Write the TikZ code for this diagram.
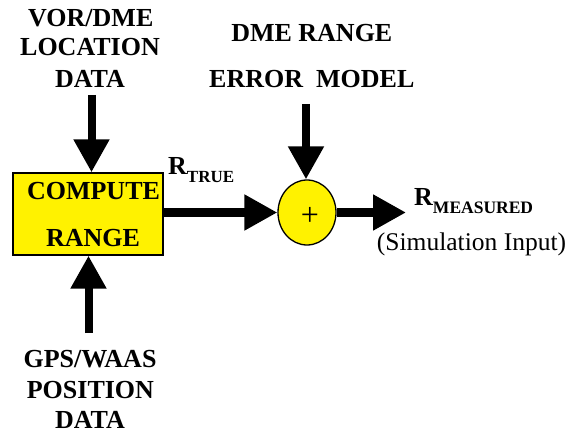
\documentclass[tikz,border=0pt]{standalone}
\usepackage{fontspec}
\setmainfont{Liberation Serif}
\usetikzlibrary{arrows.meta,shapes.geometric}
\begin{document}
\begin{tikzpicture}[x=1pt,y=-1pt,
  lbl/.style={font=\fontsize{26}{30}\selectfont\bfseries, inner sep=0pt, anchor=base},
  plaintext/.style={font=\fontsize{25.5}{30}\selectfont, inner sep=0pt},
  arr/.style={line width=8pt, -{Triangle[length=33pt,width=34pt]}},
  yel/.style={draw=black, line width=1.3pt, fill=yellow}]
\useasboundingbox (0,0) rectangle (576,433);
% box
\node[yel, rectangle, minimum width=150pt, minimum height=82pt, inner sep=0pt] (box) at (88,214) {};
\node[lbl] (c1) at (93.5,200) {COMPUTE};
\node[lbl] (c2) at (93,246) {RANGE};
% summing junction
\node[yel, ellipse, minimum width=58pt, minimum height=65pt, inner sep=0pt] (sum) at (307,212.5) {};
\node[plaintext, font=\fontsize{32}{32}\selectfont] (plus) at (310,216) {+};
% top-left input
\node[lbl] (v1) at (90.8,27) {VOR/DME};
\node[lbl] (v2) at (90,56) {LOCATION};
\node[lbl] (v3) at (90,88) {DATA};
% bottom input
\node[lbl] (g1) at (90,367) {GPS/WAAS};
\node[lbl] (g2) at (90.4,398) {POSITION};
\node[lbl] (g3) at (90,428) {DATA};
% error model
\node[lbl] (e1) at (311.8,42) {DME RANGE};
\node[lbl] (e2) at (311.8,88) {ERROR\ \ MODEL};
% labels
\node[lbl, anchor=base west] (rt) at (168,175) {R\raisebox{-8pt}{\fontsize{17}{20}\selectfont\bfseries TRUE}};
\node[lbl, anchor=base west] (rm) at (414,206) {R\raisebox{-7pt}{\fontsize{17.5}{20}\selectfont\bfseries MEASURED}};
\node[plaintext, anchor=base] (si) at (471.5,250) {(Simulation Input)};
% coordinates
\coordinate (a1) at (91.5,95);
\coordinate (b1) at (88.5,333);
\coordinate (t1) at (306,104);
\coordinate (out) at (406,212.5);
% arrows
\draw[arr] (a1) -- (a1 |- box.north);
\draw[arr] (b1) -- (b1 |- box.south);
\draw[arr] (box.east |- sum.west) -- (sum.west);
\draw[arr] (t1) -- (t1 |- sum.north);
\draw[arr] (sum.east) -- (out);
\end{tikzpicture}
\end{document}
